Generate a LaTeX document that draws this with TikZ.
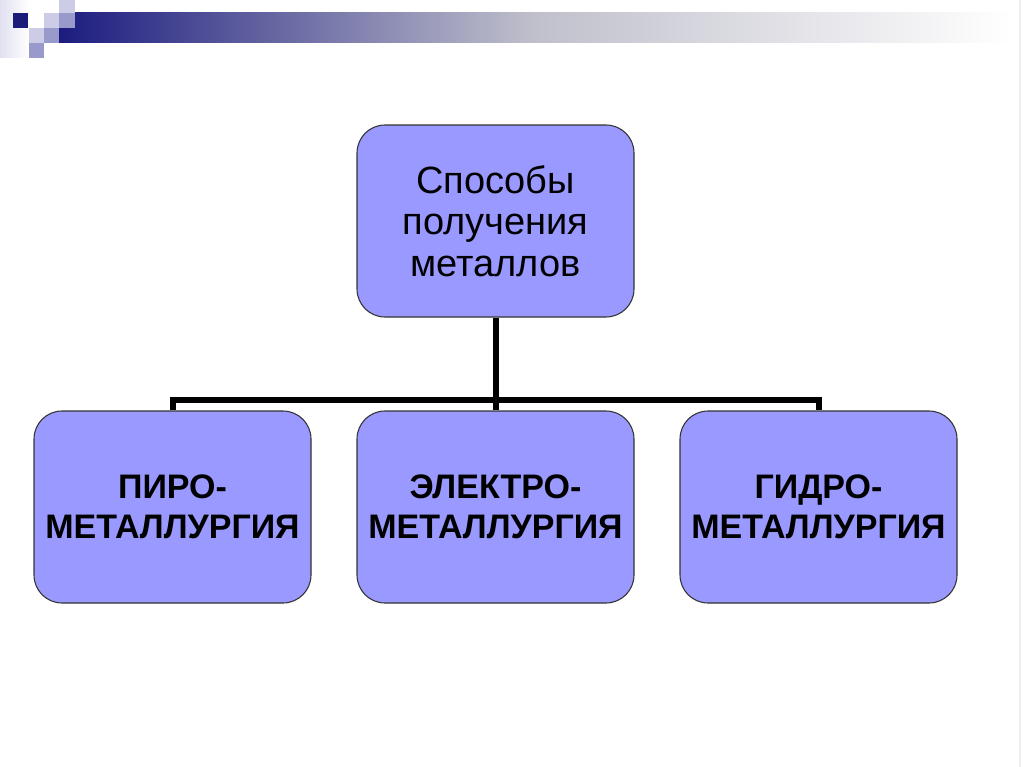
\documentclass[tikz,border=0pt]{standalone}
\usepackage{fontspec}
\setmainfont{Liberation Sans}
\begin{document}
\begin{tikzpicture}[x=0.75pt,y=-0.75pt,
  box/.style={draw=black!80, line width=0.8pt, fill=boxblue, rounded corners=21pt, minimum width=207.75pt, minimum height=144pt, inner sep=0pt, align=center},
  toptext/.style={font=\fontsize{28.5}{31}\selectfont},
  bottext/.style={font=\fontsize{25.5}{30}\selectfont\bfseries},
  link/.style={line width=4.5pt, black}]
\definecolor{boxblue}{HTML}{9999FF}
\definecolor{navy}{HTML}{1C1C80}
\definecolor{sqlight}{HTML}{CCCCE6}
\definecolor{sqmid}{HTML}{9999CC}
\useasboundingbox (0,0) rectangle (1024,767);
\fill[white] (0,0) rectangle (1024,767);
% decoration
\fill[left color=sqlight!60, right color=white] (0,0) rectangle (29,58);
\shade[left color=navy, right color=white, middle color=navy!30!gray!40] (59,13) rectangle (1012,43);
\fill[navy!95!black] (13,13) rectangle (28,28);
\fill[sqlight] (44,13) rectangle (59,28);
\fill[sqlight] (59,0) rectangle (75,13);
\fill[sqmid] (59,13) rectangle (75,28);
\fill[sqlight] (29,28) rectangle (44,43);
\fill[sqmid] (44,28) rectangle (59,43);
\fill[sqmid] (29,43) rectangle (44,58);
\draw[black!6, line width=0.8pt] (1020,0) -- (1020,767);
% nodes
\node[box, toptext] (top) at (495.5,221) {Способы\\получения\\металлов};
\node[box, bottext] (pyro) at (172.5,507) {ПИРО-\\МЕТАЛЛУРГИЯ};
\node[box, bottext] (elec) at (495.5,507) {ЭЛЕКТРО-\\МЕТАЛЛУРГИЯ};
\node[box, bottext] (hydro) at (818.5,507) {ГИДРО-\\МЕТАЛЛУРГИЯ};
\coordinate (bar) at (495.5,400);
% connectors
\draw[link] (top.south) -- (elec.north);
\draw[link, line join=miter] (pyro.north) -- (pyro.north |- bar) -- (hydro.north |- bar) -- (hydro.north);
\end{tikzpicture}
\end{document}
